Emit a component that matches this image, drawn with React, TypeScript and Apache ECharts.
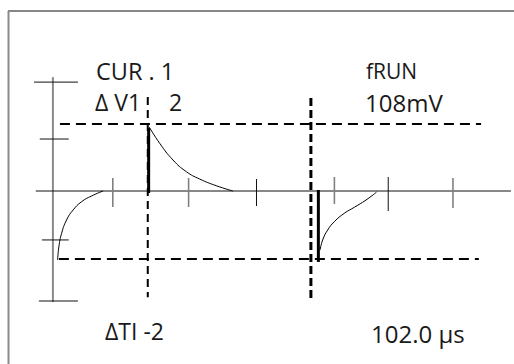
import React, { useEffect, useRef } from "react";
import * as echarts from "echarts";

// Units: x = time divisions, y = voltage divisions (axis at y = 0)
const yAxisLine = [[0, 2.07], [0, -2.02]];
const yTicks = [
  [[-0.43, 1.98], [0.57, 1.98]],
  [[-0.3, 0.945], [0.36, 0.945]],
  [[-0.25, -0.89], [0.36, -0.89]],
  [[-0.32, -2.0], [0.57, -2.0]],
];
const xAxisLine = [[-0.39, 0], [10.43, 0]];
const xTickPos = [1.364, 3.09, 4.636, 6.41, 7.636, 9.11];
const xTickTop = [0.236, 0.236, 0.218, 0.255, 0.255, 0.236];
const xTickBottom = [-0.29, -0.29, -0.273, -0.236, -0.364, -0.309];
const xTickDark = [false, false, true, false, true, false];

const levelHigh = [[0.16, 1.218], [9.75, 1.218]];
const levelLow = [[0.136, -1.236], [9.7, -1.236]];
const cursor1 = [[2.16, 1.71], [2.16, -1.93]];
const cursor2 = [[5.875, 1.69], [5.875, -1.98]];
const edge1 = [[2.18, 1.145], [2.18, -0.036]];
const edge2 = [[6.045, 0.018], [6.045, -1.29]];

const decayA = [
  [2.193, 1.164], [2.432, 0.867], [2.734, 0.564], [3.039, 0.351],
  [3.341, 0.218], [3.72, 0.096], [4.098, 0],
];
const recoverB = [
  [0.107, -1.255], [0.136, -1.013], [0.198, -0.769], [0.311, -0.527],
  [0.461, -0.345], [0.652, -0.195], [0.88, -0.091], [1.143, 0],
];
const recoverC = [
  [6.084, -1.073], [6.143, -0.891], [6.257, -0.709], [6.409, -0.558],
  [6.636, -0.405], [6.864, -0.296], [7.13, -0.164], [7.37, -0.02],
];

const labels = [
  { text: "CUR . 1", x: 96, y: 71, size: 23.5 },
  { text: "fRUN", x: 366, y: 71, size: 21 },
  { text: "Δ V1", x: 95, y: 102, size: 23 },
  { text: "2", x: 169, y: 102, size: 23 },
  { text: "108mV", x: 365, y: 102, size: 24 },
  { text: "ΔTI -2", x: 105, y: 331, size: 23 },
  { text: "102.0 µs", x: 371, y: 333, size: 24 },
];

const FONT = "'Open Sans', 'Noto Sans', sans-serif";

function seg(data: number[][], color: string, width: number, type: any = "solid", smooth = false) {
  return {
    type: "line",
    data,
    showSymbol: false,
    symbol: "none",
    smooth,
    clip: false,
    silent: true,
    lineStyle: { color, width, type, cap: "butt" },
  };
}

export default function App() {
  const ref = useRef<HTMLDivElement>(null);
  useEffect(() => {
    if (!ref.current) return;
    const chart = echarts.init(ref.current, null, { renderer: "svg" });
    const series: any[] = [];
    series.push(seg(yAxisLine, "#8a8a8a", 2));
    yTicks.forEach((t) => series.push(seg(t, "#111", 1)));
    series.push(seg(xAxisLine, "#111", 1));
    xTickPos.forEach((x, i) =>
      series.push(
        seg(
          [[x, xTickTop[i]], [x, xTickBottom[i]]],
          xTickDark[i] ? "#111" : "#808080",
          xTickDark[i] ? 1 : 1.6
        )
      )
    );
    series.push(seg(levelHigh, "#000", 2, [10, 6]));
    series.push(seg(levelLow, "#000", 2, [10, 6]));
    series.push(seg(cursor1, "#000", 2, [8, 5]));
    series.push(seg(cursor2, "#000", 3, [8, 4]));
    series.push(seg(edge1, "#000", 3));
    series.push(seg(edge2, "#000", 3));
    series.push(seg(decayA, "#000", 1, "solid", true));
    series.push(seg(recoverB, "#000", 1, "solid", true));
    series.push(seg(recoverC, "#000", 1, "solid", true));

    chart.setOption({
      animation: false,
      backgroundColor: "#fff",
      grid: { left: 9, top: 26, width: 506, height: 330 },
      xAxis: { type: "value", min: -1, max: 10.5, show: false },
      yAxis: { type: "value", min: -3, max: 3, show: false },
      series,
      graphic: [
        { type: "line", shape: { x1: 8, y1: 11, x2: 514, y2: 11 }, style: { stroke: "#111", lineWidth: 1 }, silent: true },
        { type: "line", shape: { x1: 8.5, y1: 11, x2: 8.5, y2: 364 }, style: { stroke: "#8a8a8a", lineWidth: 2 }, silent: true },
        ...labels.map((l) => ({
          type: "text",
          x: l.x,
          y: l.y,
          silent: true,
          style: {
            text: l.text,
            fill: "#1a1a1a",
            font: `${l.size}px ${FONT}`,
            align: "left",
            verticalAlign: "middle",
          },
        })),
      ],
    });
    return () => chart.dispose();
  }, []);
  return (
    <div
      ref={ref}
      style={{ position: "absolute", left: 0, top: 0, width: 514, height: 364 }}
    />
  );
}
